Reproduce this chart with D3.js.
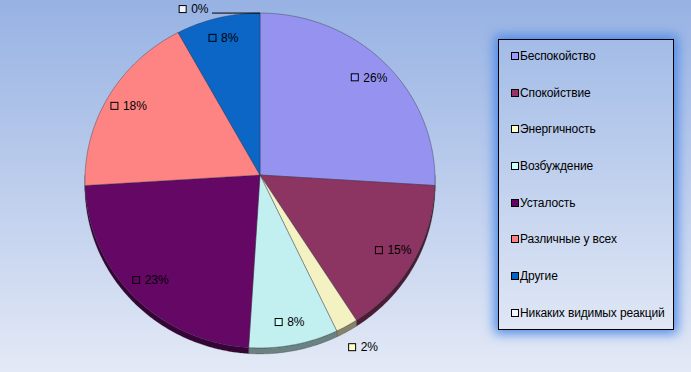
<!DOCTYPE html>
<html>
<head>
<meta charset="utf-8">
<script src="https://cdn.jsdelivr.net/npm/d3@7"></script>
<style>
  html, body { margin: 0; padding: 0; background: #fff; }
  svg { display: block; font-family: "Liberation Sans", Arial, sans-serif; }
</style>
</head>
<body>
<svg id="chart" width="691" height="372"></svg>
<script>
// ---- data ----
const categories = ["Беспокойство", "Спокойствие", "Энергичность", "Возбуждение", "Усталость", "Различные у всех", "Другие", "Никаких видимых реакций"];
const values = [26, 15, 2, 8, 23, 18, 8, 0];
const legendColors = ["#9999FF", "#993366", "#FFFFCC", "#CCFFFF", "#660066", "#FF8080", "#0066CC", "#F4F4FF"];
const faceColors = ["#9593EF", "#8C3462", "#F4F1C2", "#C2EFEF", "#650865", "#FE8484", "#0B66C6", "#E8E8FF"];

const W = 691, H = 372;
const svg = d3.select("#chart");
const defs = svg.append("defs");

// background gradient
const bg = defs.append("linearGradient").attr("id", "bg").attr("x1", 0).attr("y1", 0).attr("x2", 0).attr("y2", 1);
bg.append("stop").attr("offset", 0).attr("stop-color", "#97B2E3");
bg.append("stop").attr("offset", 1).attr("stop-color", "#E3E9F6");
svg.append("rect").attr("width", W).attr("height", H).attr("fill", "url(#bg)");

// ---- 3D perspective pie projection ----
const cx = 260, cy = 175;
const F = 1557, D = 8.9, sinE = 0.956, cosE = 0.292;
function proj(theta, r, drop) {
  const x = r * Math.sin(theta), z = r * Math.cos(theta);
  const d = D + z * cosE;
  return [cx + F * x / d, cy - F * z * sinE / d + (drop || 0) * 8.6 / d];
}
const thick = 6;

const arcs = d3.pie().sort(null).value(d => d)(values);
const line = d3.line();

function sample(a0, a1, r, drop) {
  const n = Math.max(2, Math.ceil((a1 - a0) / (Math.PI / 360)));
  const pts = [];
  for (let i = 0; i <= n; i++) pts.push(proj(a0 + (a1 - a0) * i / n, r, drop));
  return pts;
}

const pieG = svg.append("g");
// sides (front half)
arcs.forEach((a, i) => {
  const a0 = Math.max(a.startAngle, Math.PI / 2), a1 = Math.min(a.endAngle, 3 * Math.PI / 2);
  if (a1 <= a0) return;
  const top = sample(a0, a1, 1, 0);
  const bot = sample(a0, a1, 1, thick).reverse();
  pieG.append("path")
    .attr("d", line(top.concat(bot)) + "Z")
    .attr("fill", d3.color(faceColors[i]).darker(1.7))
    .attr("stroke", "#222").attr("stroke-opacity", 0.5).attr("stroke-width", 0.5);
});
// faces
arcs.forEach((a, i) => {
  if (a.endAngle - a.startAngle <= 0) return;
  const pts = [[cx, cy]].concat(sample(a.startAngle, a.endAngle, 1, 0));
  pieG.append("path")
    .attr("d", line(pts) + "Z")
    .attr("fill", faceColors[i])
    .attr("stroke", "#2a2a3a").attr("stroke-opacity", 0.55).attr("stroke-width", 0.7)
    .attr("stroke-linejoin", "round");
});

// ---- data labels ----
const labG = svg.append("g").attr("font-size", "12px").attr("fill", "#000");
arcs.forEach((a, i) => {
  const v = values[i];
  const mid = (a.startAngle + a.endAngle) / 2;
  const g = labG.append("g");
  const txt = g.append("text").attr("x", 12).attr("y", 0).attr("dy", "0.35em").text(Math.round(v) + "%");
  g.insert("rect", "text").attr("x", 0).attr("y", -3.5).attr("width", 7).attr("height", 7)
    .attr("fill", legendColors[i]).attr("stroke", "#000").attr("stroke-width", 1);
  const w = 12 + txt.node().getComputedTextLength(), h = 13;
  let ccx, ccy;
  if (v === 0) {
    const e = proj(mid, 1, 0);
    labG.append("line").attr("x1", e[0] - 48).attr("x2", e[0]).attr("y1", e[1]).attr("y2", e[1])
      .attr("stroke", "#000").attr("stroke-width", 1);
    ccx = e[0] - 52 - w / 2; ccy = e[1] - 4;
  } else if (v < 3) {
    const p = proj(mid, 1.1, 0);
    ccx = p[0] + Math.sin(mid) * w / 2; ccy = p[1] - Math.cos(mid) * h / 2;
  } else {
    const p = proj(mid, 0.87, 0);
    ccx = p[0]; ccy = p[1];
  }
  g.attr("transform", `translate(${ccx - w / 2 + 0.5},${ccy})`);
});

// ---- legend ----
const lx = 498.5, ly = 39.5, lw = 175, lh = 290;
const glow = defs.append("filter").attr("id", "glow").attr("x", "-25%").attr("y", "-25%").attr("width", "150%").attr("height", "150%");
glow.append("feGaussianBlur").attr("stdDeviation", 6);
const lg = defs.append("linearGradient").attr("id", "lgbg").attr("x1", 0).attr("y1", 0).attr("x2", 0).attr("y2", 1);
lg.append("stop").attr("offset", 0).attr("stop-color", "#A3BCE7");
lg.append("stop").attr("offset", 1).attr("stop-color", "#E0E7F5");

svg.append("rect").attr("x", lx - 4).attr("y", ly - 4).attr("width", lw + 8).attr("height", lh + 8)
  .attr("fill", "#4C88E6").attr("filter", "url(#glow)");
svg.append("rect").attr("x", lx).attr("y", ly).attr("width", lw).attr("height", lh)
  .attr("fill", "url(#lgbg)").attr("stroke", "#000").attr("stroke-width", 1);

const legY = d3.scalePoint().domain(categories).range([56, 312.7]);
const leg = svg.append("g").attr("font-size", "12px").attr("fill", "#000").attr("letter-spacing", "-0.12px");
categories.forEach((c, i) => {
  const y = legY(c);
  leg.append("rect").attr("x", 511.5).attr("y", Math.round(y) - 3.5).attr("width", 7).attr("height", 7)
    .attr("fill", legendColors[i]).attr("stroke", "#000").attr("stroke-width", 1);
  leg.append("text").attr("x", 520).attr("y", Math.round(y)).attr("dy", "0.36em").text(c);
});
</script>
</body>
</html>
